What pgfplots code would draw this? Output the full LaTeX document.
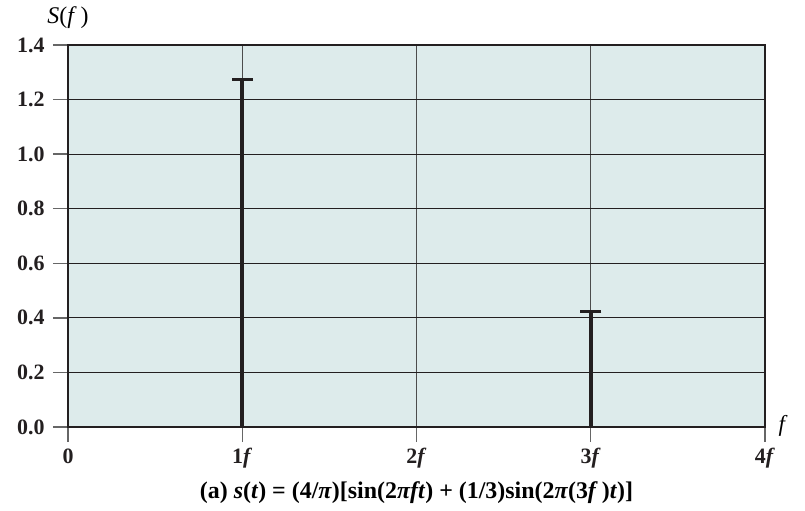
\documentclass[border=0pt]{standalone}
\usepackage{fontspec}
\setmainfont{Liberation Serif}
\usepackage{pgfplots}
\pgfplotsset{compat=1.18}
\definecolor{bgc}{RGB}{221,235,235}
\definecolor{stemc}{RGB}{35,31,32}
\begin{document}
\begin{tikzpicture}
\begin{axis}[
  scale only axis,
  width=697bp, height=382bp,
  xmin=0, xmax=4, ymin=0, ymax=1.4,
  axis background/.style={fill=bgc},
  axis line style={stemc, line width=1.4bp},
  xtick={0,1,2,3,4},
  xticklabels={0,1\textit{f},2\textit{f},3\textit{f},4\textit{f}},
  ytick={0,0.2,0.4,0.6,0.8,1.0,1.2,1.4},
  yticklabel style={/pgf/number format/fixed, /pgf/number format/fixed zerofill, /pgf/number format/precision=1},
  /pgf/number format/assume math mode=true,
  tick label style={font=\fontsize{22}{24}\selectfont\bfseries, text=stemc},
  tick pos=left,
  tick align=outside,
  major tick length=15bp,
  tick style={gray!80!black, line width=1.3bp},
  xticklabel style={yshift=-3bp},
  yticklabel style={xshift=-5bp},
  xmajorgrids=true, ymajorgrids=true,
  major grid style={stemc, line width=1.2bp},
  x grid style={gray!60!black, line width=0.9bp},
  clip=false,
]
\addplot[ycomb, stemc, line width=3.6bp] coordinates {(1,1.273) (3,0.424)};
\addplot[only marks, mark=-, mark size=10.5bp, mark options={stemc, line width=3bp}] coordinates {(1,1.273) (3,0.424)};
\node[font=\fontsize{23}{25}\selectfont\itshape, anchor=west] at (axis cs:4,0) [xshift=10bp, yshift=1bp] {f};
\node[font=\fontsize{24}{26}\selectfont] at (axis cs:0,1.4) [yshift=27bp] {\textit{S}(\textit{f}\,)};
\node[font=\fontsize{24}{26}\selectfont\bfseries] at (axis cs:2,0) [yshift=-66bp] {(a) \textit{s}(\textit{t}) = (4/\textit{π})[sin(2\textit{πft}) + (1/3)sin(2\textit{π}(3\textit{f}\,)\textit{t})]};
\end{axis}
\pgfresetboundingbox
\path ([shift={(-68bp,-84bp)}]current axis.south west) rectangle ([shift={(40bp,45bp)}]current axis.north east);
\end{tikzpicture}
\end{document}
